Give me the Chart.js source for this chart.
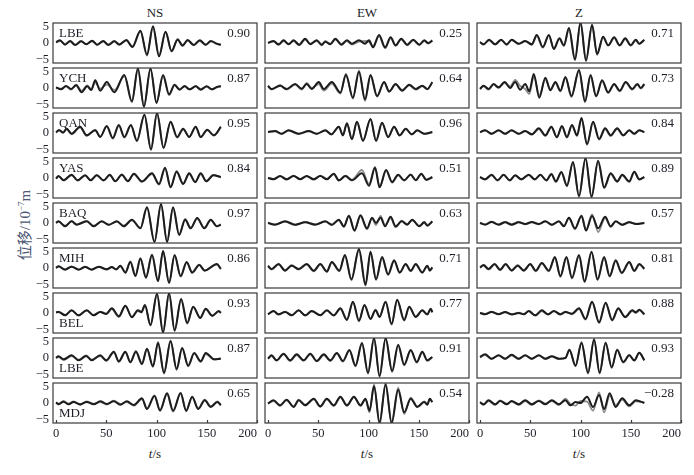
<!DOCTYPE html>
<html>
<head>
<meta charset="utf-8">
<script src="https://cdn.jsdelivr.net/npm/chart.js@4.4.0/dist/chart.umd.min.js"></script>
<style>
  body { margin: 0; background: #fff; width: 694px; height: 475px; position: relative; overflow: hidden;
         font-family: "Liberation Serif", "Noto Sans CJK SC", serif; color: #1e1e28; }
  .panel { position: absolute; }
  .txt { position: absolute; transform: translate(-50%, -50%); white-space: nowrap; font-size: 13px; }
  .ytitle { position: absolute; left: 23px; top: 225px; transform: translate(-50%, -50%) rotate(-90deg);
            white-space: nowrap; font-size: 15px; color: #4a5672; }
</style>
</head>
<body>

<div class="txt" style="left:155px; top:13px;">NS</div>
<div class="txt" style="left:367px; top:13px;">EW</div>
<div class="txt" style="left:579px; top:13px;">Z</div>
<div class="txt" style="left:155px; top:454px;"><i>t</i>/s</div>
<div class="txt" style="left:367px; top:454px;"><i>t</i>/s</div>
<div class="txt" style="left:579px; top:454px;"><i>t</i>/s</div>
<div class="ytitle">位移/10<sup style="font-size:9px">−7</sup>m</div>

<script>
// chart labels
const components = ['NS', 'EW', 'Z'];
const stations = ['LBE', 'YCH', 'QAN', 'YAS', 'BAQ', 'MIH', 'BEL', 'LBE', 'MDJ'];
const corrNS = ['0.90', '0.87', '0.95', '0.84', '0.97', '0.86', '0.93', '0.87', '0.65'];
const corrEW = ['0.25', '0.64', '0.96', '0.51', '0.63', '0.71', '0.77', '0.91', '0.54'];
const corrZ = ['0.71', '0.73', '0.84', '0.89', '0.57', '0.81', '0.88', '0.93', '−0.28'];
const xTicks = [0, 50, 100, 150, 200];
const yTicks = [-5, 0, 5];

// waveforms: times (s) of turning points, observed (black) and synthetic (gray), 1e-7 m
// NS
const ns1_t = [0, 4, 9, 14, 19, 25, 30, 36, 41, 47, 52, 58, 63, 70, 76, 84, 90.5, 96.5, 102.5, 109, 115, 121, 126, 131, 137, 143, 149, 154, 160, 164];
const ns1_obs = [0.3, 0.8, -0.5, 0.6, -0.6, 0.5, -0.4, 0.7, -0.5, 0.6, -0.6, 0.5, -0.5, 0.9, -1.2, 3.7, -3.5, 5.0, -4.0, 3.4, -2.4, 1.0, -0.8, 0.9, -0.6, 0.8, -0.5, 0.6, -0.2, -0.6];
const ns1_syn = [0.1, 0.6, -0.3, 0.5, -0.5, 0.6, -0.3, 0.5, -0.6, 0.5, -0.4, 0.6, -0.3, 0.7, -1.0, 3.4, -3.8, 4.7, -3.7, 3.2, -2.6, 1.2, -0.6, 0.7, -0.7, 0.6, -0.6, 0.5, -0.3, -0.4];

const ns2_t = [0, 5, 10, 15, 20, 25.5, 31, 35, 39, 44, 50.5, 58, 68, 75.5, 81.5, 87.5, 94, 100, 106.5, 112.5, 118, 123, 128, 133, 139, 144, 150, 155, 160, 164];
const ns2_obs = [0.2, -0.4, 0.6, -0.3, 0.8, -1.3, 0.5, -0.6, 2.3, -0.8, 1.8, -1.3, 3.9, -4.0, 5.9, -5.5, 5.9, -4.5, 3.9, -1.9, 0.9, -0.5, 0.6, -0.4, 0.5, -0.5, 0.5, -0.4, 0.3, 0.6];
const ns2_syn = [0.0, -0.2, 0.5, -0.5, 1.0, -0.8, 0.8, -0.3, 1.6, -0.2, 1.0, -0.6, 3.5, -4.3, 5.6, -5.8, 5.6, -4.2, 3.6, -2.2, 1.1, -0.3, 0.4, -0.5, 0.6, -0.3, 0.4, -0.5, 0.2, 0.4];

const ns3_t = [0, 3, 7, 10.5, 15.5, 24, 30.5, 39, 44, 50.5, 56.5, 62.5, 68, 74.5, 80.5, 88, 94.5, 100.5, 107, 114, 120.5, 126.5, 132.5, 139, 144, 150.5, 157, 164];
const ns3_obs = [0.2, 0.9, 0.1, 1.3, -0.2, 1.9, -0.7, 0.8, -1.2, 2.1, -1.5, 2.4, -1.2, 2.4, -2.3, 5.5, -4.9, 6.0, -4.4, 3.4, -1.2, 1.3, -1.2, 1.9, -1.2, 1.0, -0.7, 1.9];
const ns3_syn = [0.1, 0.7, 0.2, 1.1, -0.4, 1.7, -0.9, 0.9, -1.0, 1.9, -1.7, 2.2, -1.4, 2.2, -2.5, 5.3, -5.1, 5.8, -4.6, 3.2, -1.4, 1.1, -1.0, 1.7, -1.3, 0.8, -0.8, 1.6];

const ns4_t = [0, 2.5, 7.5, 15.5, 21.5, 29, 34.5, 40.5, 47.5, 53.5, 59, 65.5, 71.5, 77.5, 85.5, 95.5, 102.5, 108.5, 114, 120, 126.5, 132.5, 138.5, 144, 149.5, 156.5, 164];
const ns4_obs = [-0.2, 0.6, -0.7, 1.0, -0.7, 0.8, -0.7, 0.8, -0.7, 1.0, -1.0, 1.0, -1.0, 1.3, -1.0, 1.4, -1.8, 3.1, -2.8, 1.9, -1.8, 1.4, -1.2, 1.4, -1.0, 0.8, 0.3];
const ns4_syn = [-0.1, 0.5, -0.6, 0.8, -0.8, 0.7, -0.6, 0.9, -0.8, 0.8, -0.9, 1.1, -0.8, 1.1, -1.2, 1.2, -2.0, 2.8, -2.6, 2.1, -1.6, 1.2, -1.3, 1.2, -0.8, 0.9, 0.2];

const ns5_t = [0, 2.5, 9, 15.5, 20.5, 30.5, 37.5, 45.5, 52.5, 60.5, 67.5, 75.5, 84, 90.5, 98, 104.5, 110.5, 116.5, 122.5, 128.5, 134, 140.5, 147.5, 154, 160, 164];
const ns5_obs = [0, 0.5, -1.0, 0.5, -0.5, 0.5, -1.0, 0.5, -0.5, 0.5, -1.0, 1.0, -1.6, 4.7, -5.7, 5.7, -5.7, 4.7, -3.6, 1.0, -1.6, 1.5, -1.6, 1.0, -1.0, -0.5];
const ns5_syn = [0.1, 0.4, -0.8, 0.6, -0.4, 0.6, -0.8, 0.4, -0.6, 0.4, -0.8, 0.8, -1.4, 4.5, -5.5, 5.5, -5.5, 4.5, -3.4, 1.2, -1.4, 1.3, -1.4, 0.9, -0.9, -0.4];

const ns6_t = [0, 2.5, 9, 15.5, 22.5, 29, 35.5, 42.5, 50.5, 55.5, 60, 64, 69, 74, 79, 84, 89.5, 95.5, 101.5, 106.5, 112.5, 118, 124, 130, 135.5, 142.5, 148, 160, 164];
const ns6_obs = [0, 0.5, -0.5, 0.4, -0.5, 0.3, -0.5, 0.4, -0.4, 0.3, -0.4, 0.7, -1.4, 1.8, -2.4, 2.8, -2.9, 3.9, -4.0, 5.1, -4.5, 3.9, -2.4, 1.8, -1.4, 0.9, -0.8, 1.2, -0.3];
const ns6_syn = [0.1, 0.4, -0.4, 0.5, -0.4, 0.4, -0.4, 0.3, -0.5, 0.2, -0.5, 0.5, -1.2, 2.0, -2.2, 3.0, -2.7, 4.1, -3.8, 4.8, -4.3, 3.7, -2.6, 1.6, -1.2, 1.0, -0.7, 1.0, -0.2];

const ns7_t = [0, 2.5, 9, 15.5, 22.5, 30.5, 37.5, 44, 50, 55.5, 62.5, 69, 75.5, 81.5, 85, 88.5, 94, 100.5, 106.5, 112.5, 118, 124.5, 130.5, 136.5, 143.5, 149, 155.5, 162, 164];
const ns7_obs = [0.2, 0.3, -0.7, 0.8, -0.7, 0.8, -0.7, 0.3, -0.3, 1.4, -1.0, 2.2, -1.3, 0.8, 0.3, 2.4, -3.6, 5.8, -5.9, 6.0, -5.2, 4.2, -3.0, 1.9, -1.5, 1.3, -0.8, 0.6, 0.0];
const ns7_syn = [0.1, 0.4, -0.6, 0.7, -0.8, 0.7, -0.6, 0.4, -0.2, 1.2, -1.2, 2.0, -1.1, 0.6, 0.1, 2.2, -3.8, 5.6, -5.7, 5.8, -5.4, 4.0, -3.2, 1.7, -1.3, 1.1, -0.9, 0.5, 0.1];

const ns8_t = [0, 2.5, 7.5, 15.5, 22.5, 30, 35.5, 44, 50, 57.5, 62.5, 69, 74, 79.5, 85.5, 90.5, 96.5, 101.5, 107.5, 114, 120, 125.5, 131.5, 137.5, 144, 149, 157.5, 164];
const ns8_obs = [0, 0.5, -0.4, 0.8, -0.7, 0.6, -0.7, 0.8, -0.7, 1.9, -1.0, 1.9, -1.3, 1.9, -1.8, 2.7, -2.5, 4.5, -4.4, 5.0, -3.3, 2.9, -2.3, 1.4, -1.0, 1.5, -0.4, -0.2];
const ns8_syn = [0.1, 0.3, -0.6, 0.6, -0.5, 0.8, -0.5, 0.6, -0.9, 1.6, -1.2, 1.7, -1.1, 2.1, -1.6, 2.9, -2.7, 4.8, -4.7, 5.3, -3.6, 3.1, -2.5, 1.6, -1.2, 1.2, -0.5, 0.0];

const ns9_t = [0, 2.5, 7.5, 12.5, 17.5, 24, 30.5, 37.5, 44, 50.5, 57.5, 64, 70.5, 77.5, 85.5, 90.5, 98, 103.5, 110.5, 116.5, 124, 129.5, 135.5, 141.5, 148, 154, 160.5, 164];
const ns9_obs = [0.2, -0.3, 0.4, -0.4, 0.3, -0.4, 0.3, -0.4, 0.5, -0.3, 0.5, -0.5, 0.5, -0.6, 1.4, -1.8, 2.1, -2.3, 2.9, -2.3, 2.9, -2.4, 1.9, -1.8, 0.8, -1.2, 0.3, -0.7];
const ns9_syn = [0.0, -0.5, 0.6, -0.2, 0.5, -0.6, 0.5, -0.2, 0.3, -0.5, 0.7, -0.3, 0.3, -0.8, 1.2, -1.6, 2.3, -2.0, 2.6, -2.6, 3.1, -2.2, 1.7, -1.6, 1.0, -1.0, 0.5, -0.5];

// EW
const ew1_t = [0, 5.5, 10.5, 15.5, 20.5, 25.5, 31, 37, 42, 48.5, 53.5, 57, 62, 67, 73, 78.5, 83.5, 90.5, 96.5, 100.5, 104.5, 110.5, 116.5, 122, 127, 132.5, 138.5, 144.5, 150.5, 155.5, 159.5, 163.5];
const ew1_obs = [0, 0.6, -0.4, 0.8, -0.4, 0.8, -0.5, 1.3, -0.4, 0.8, -0.5, 0.4, -0.4, 1.3, -0.5, 0.8, -0.2, 0.8, -0.2, 0.8, -1.3, 2.4, -1.3, 1.7, -0.7, 1.3, -0.5, 1.0, -0.5, 0.8, 0.0, 0.8];
const ew1_syn = [0.1, 0.4, -0.6, 0.6, -0.2, 0.6, -0.7, 1.0, -0.2, 0.6, -0.7, 0.6, -0.2, 1.0, -0.3, 0.6, -0.5, 0.4, 0.6, 0.3, -0.9, 2.0, -1.6, 1.4, -0.9, 1.1, -0.7, 0.8, -0.6, 0.6, -0.2, 0.7];

const ew2_t = [0, 3.5, 12, 18.5, 27, 33.5, 38.5, 43.5, 50.5, 55.5, 63.5, 72, 77.5, 84.5, 90.5, 96.5, 102, 108.5, 115.5, 120.5, 127, 133.5, 140.5, 147, 153.5, 158.5, 163.5];
const ew2_obs = [0.7, -0.3, 0.7, -0.3, 1.2, -0.2, 1.2, -0.3, 1.8, -0.3, 1.8, -1.4, 3.9, -2.9, 4.9, -3.4, 3.9, -2.4, 1.8, -1.0, 1.2, -0.8, 1.0, -0.3, 0.7, -0.3, 1.8];
const ew2_syn = [0.5, -0.5, 0.9, -0.5, 1.0, -0.5, 1.5, 0.0, 1.2, -0.8, 1.3, -1.7, 4.3, -3.2, 5.3, -3.9, 3.6, -2.6, 1.6, -1.2, 1.0, -0.6, 0.8, -0.5, 0.5, -0.4, 1.5];

const ew3_t = [0, 7, 13.5, 20.5, 30.5, 40.5, 48.5, 57, 63, 70.5, 74.5, 78.5, 83.5, 88.5, 94.5, 102, 107.5, 113.5, 119.5, 125.5, 131, 137, 143, 148.5, 155.5, 163.5];
const ew3_obs = [0.3, 0.6, -0.2, 0.8, -0.2, 0.6, -0.2, 0.8, -0.4, 1.9, -0.7, 2.9, -1.8, 3.4, -2.3, 4.2, -2.3, 3.1, -1.2, 1.9, -0.7, 1.3, -0.4, 0.8, -0.2, 0.3];
const ew3_syn = [0.2, 0.5, -0.3, 0.7, -0.3, 0.5, -0.3, 0.7, -0.5, 1.8, -0.8, 2.8, -1.9, 3.3, -2.4, 4.1, -2.4, 3.0, -1.3, 1.8, -0.8, 1.2, -0.5, 0.7, -0.3, 0.2];

const ew4_t = [0, 5.5, 12, 18.5, 25.5, 32, 38.5, 45.5, 52, 58.5, 65.5, 70.5, 77, 83.5, 93.5, 100.5, 106.5, 111, 117.5, 123.5, 129.5, 135.5, 142, 147, 152.5, 157.5, 163.5];
const ew4_obs = [0, -0.4, 0.6, -0.4, 0.6, -0.4, 0.6, -0.4, 0.6, -0.4, 1.3, -0.7, 0.6, -0.7, 1.4, -2.3, 3.1, -2.8, 2.4, -1.2, 1.0, -0.7, 1.0, -0.7, 1.3, -0.5, 0.3];
const ew4_syn = [0.1, -0.3, 0.5, -0.5, 0.7, -0.3, 0.5, -0.5, 0.7, -0.3, 1.1, -0.8, 0.7, -0.5, 2.4, -1.8, 3.3, -2.5, 2.2, -1.4, 0.8, -0.8, 1.1, -0.6, 1.1, -0.6, 0.2];

const ew5_t = [0, 7, 17, 27, 37, 47, 57, 63.5, 70.5, 75.5, 80.5, 86, 92, 98.5, 103.5, 107.5, 112, 116.5, 122, 127, 133, 138.5, 143.5, 150.5, 155.5, 158.5, 163.5];
const ew5_obs = [0, -0.5, 0.5, -0.5, 0.2, -0.5, 0.5, -0.5, 1.0, -1.0, 2.1, -2.3, 2.3, -1.6, 1.6, 0.0, 1.6, -1.0, 1.9, -1.0, 0.5, -0.5, 1.0, -1.0, 0.2, -0.8, 0.5];
const ew5_syn = [0.1, -0.4, 0.4, -0.6, 0.3, -0.4, 0.4, -0.6, 0.8, -1.2, 2.3, -2.0, 2.0, -1.9, 1.3, -0.6, 2.1, -0.6, 1.5, -1.3, 0.7, -0.3, 0.8, -0.8, 0.3, -0.6, 0.4];

const ew6_t = [0, 3.5, 10.5, 17, 23.5, 30.5, 38.5, 45.5, 52, 58.5, 63.5, 71, 76.5, 83, 90.5, 97, 102, 107.5, 113.5, 119.5, 125.5, 131, 137, 142, 147, 153.5, 158.5, 161, 163.5];
const ew6_obs = [0.7, -0.3, 1.2, -0.8, 0.7, -0.3, 1.2, -0.8, 1.2, -1.1, 1.8, -0.8, 3.9, -3.4, 5.7, -5.0, 4.9, -3.4, 3.3, -1.9, 2.3, -1.4, 1.2, -0.8, 1.2, -1.4, 0.7, -0.8, 0.2];
const ew6_syn = [0.5, -0.5, 1.0, -0.6, 0.9, -0.5, 1.0, -1.0, 1.0, -0.9, 1.6, -1.0, 3.6, -3.7, 5.4, -5.3, 4.6, -3.6, 3.0, -2.1, 2.0, -1.2, 1.0, -1.0, 1.0, -1.2, 0.5, -0.6, 0.1];

const ew7_t = [0, 5.5, 10.5, 17, 23.5, 30.5, 37, 43.5, 52, 58.5, 65.5, 72, 78.5, 84.5, 90.5, 96, 102, 107, 111, 117, 123, 128.5, 135.5, 140.5, 147, 153.5, 158.5, 162, 163.5];
const ew7_obs = [-0.4, 0.6, -0.4, 0.3, -0.7, 0.8, -0.7, 0.6, -0.7, 0.8, -0.7, 1.4, -2.1, 3.4, -2.3, 2.4, -1.8, 0.8, -1.2, 3.4, -3.3, 4.0, -2.1, 1.9, -1.2, 0.8, -0.4, 1.3, 0.2];
const ew7_syn = [-0.3, 0.5, -0.5, 0.4, -0.6, 0.7, -0.8, 0.5, -0.6, 0.7, -0.8, 1.2, -1.9, 3.2, -2.5, 2.2, -1.6, 1.0, -1.0, 3.2, -3.5, 3.8, -2.3, 1.7, -1.0, 0.7, -0.5, 1.1, 0.3];

const ew8_t = [0, 3.5, 8.5, 15.5, 22, 28.5, 35.5, 42, 48.5, 55.5, 62, 68.5, 74.5, 81, 87, 93.5, 99.5, 105.5, 111, 117, 123.5, 129.5, 135.5, 142, 148, 153.5, 158.5, 163.5];
const ew8_obs = [-0.2, 0.8, -0.7, 1.3, -0.7, 1.1, -0.7, 1.3, -0.9, 1.1, -0.7, 1.5, -0.9, 2.4, -2.3, 4.5, -4.4, 6.0, -5.4, 6.0, -3.9, 4.0, -2.0, 2.4, -1.2, 1.9, -0.7, 0.3];
const ew8_syn = [-0.1, 0.6, -0.8, 1.1, -0.9, 0.9, -0.8, 1.1, -1.0, 0.9, -0.9, 1.3, -1.1, 2.2, -2.5, 4.3, -4.7, 5.8, -5.7, 5.7, -4.2, 3.7, -2.2, 2.2, -1.4, 1.7, -0.9, 0.2];

const ew9_t = [0, 5.5, 12, 18.5, 25.5, 30.5, 37, 45.5, 52, 58.5, 65.5, 72, 78.5, 85.5, 92, 97, 101, 105.5, 111, 117, 123, 129.5, 135.5, 142, 148.5, 155.5, 158.5, 161, 163.5];
const ew9_obs = [-0.2, 0.8, -0.7, 1.0, -1.2, 0.8, -0.7, 1.3, -1.0, 1.3, -0.7, 1.9, -0.7, 1.9, -0.7, 1.3, -2.3, 5.0, -5.9, 5.5, -5.9, 4.0, -2.8, 1.3, -1.2, 0.3, -0.5, 1.3, 0.3];
const ew9_syn = [-0.1, 0.6, -0.9, 0.8, -1.0, 1.0, -0.5, 1.1, -1.2, 1.1, -0.9, 1.7, -0.9, 1.7, -0.9, 1.0, -2.8, 5.6, -6.6, 6.1, -6.5, 4.6, -3.3, 1.6, -1.0, 0.5, -0.3, 1.1, 0.2];

// Z
const z1_t = [0, 3.5, 9, 15, 21, 26.5, 31.5, 38.5, 45, 51.5, 56.5, 62.5, 68.5, 73.5, 79, 83.5, 88.5, 94.5, 100, 105.5, 111.5, 116.5, 122.5, 127.5, 133.5, 139, 144.5, 150, 155, 158.5, 163.5];
const z1_obs = [0.3, -0.4, 1.0, -0.4, 1.0, -0.4, 1.0, -0.2, 0.6, -0.4, 2.4, -1.2, 2.4, -1.8, 1.4, -0.7, 4.5, -4.9, 6.2, -5.2, 5.5, -3.3, 1.9, -0.7, 1.7, -0.7, 1.4, -0.7, 1.0, -0.2, 1.0];
const z1_syn = [0.2, -0.5, 0.8, -0.5, 0.9, -0.6, 0.9, -0.3, 0.5, -0.6, 2.1, -1.4, 2.2, -1.6, 1.2, -0.9, 4.2, -5.2, 6.0, -5.5, 5.2, -3.6, 1.7, -0.8, 1.5, -0.8, 1.2, -0.8, 0.8, -0.3, 0.8];

const z2_t = [0, 3.5, 8.5, 13.5, 18.5, 24.5, 30, 35, 40, 45, 49, 53.5, 59, 65, 70, 75, 80, 85, 91, 98.5, 104.5, 110, 115.5, 121.5, 127.5, 133.5, 139, 145, 151.5, 156.5, 160, 163.5];
const z2_obs = [-0.3, 0.7, -0.3, 1.2, 0.2, 1.8, 0.0, 1.8, -0.5, 1.2, -1.0, 4.2, -2.9, 3.1, -0.7, 1.8, -0.8, 3.3, -2.4, 5.4, -4.0, 3.9, -2.4, 2.3, -1.3, 1.2, -0.8, 1.8, -0.3, 1.2, 0.0, 1.2];
const z2_syn = [-0.2, 0.5, -0.5, 1.0, 0.0, 1.5, 0.5, 2.4, 0.6, -0.3, -1.8, 3.4, -2.2, 2.6, -0.3, 1.5, -1.0, 3.0, -2.7, 5.1, -4.3, 3.6, -2.6, 2.0, -1.5, 1.0, -1.0, 1.6, -0.5, 1.0, -0.2, 1.0];

const z3_t = [0, 5, 11.5, 18.5, 25, 31.5, 38.5, 45, 51.5, 58.5, 65, 71, 76.5, 81.5, 86.5, 91.5, 96.5, 101, 106.5, 112.5, 118.5, 124.5, 130, 136.5, 142.5, 148.5, 153.5, 158.5, 163.5];
const z3_obs = [0.3, 0.8, -0.2, 0.8, -0.2, 0.8, -0.2, 0.6, -0.4, 1.4, -0.7, 1.9, -1.2, 2.1, -1.2, 2.4, -0.7, 4.5, -3.3, 3.4, -1.8, 1.4, -0.7, 1.4, -0.7, 0.8, -0.2, 0.8, 0.3];
const z3_syn = [0.2, 0.7, -0.3, 0.7, -0.3, 0.7, -0.3, 0.5, -0.5, 1.2, -0.9, 1.7, -1.4, 1.9, -1.4, 2.2, -0.9, 4.2, -3.6, 3.2, -2.0, 1.2, -0.9, 1.2, -0.8, 0.7, -0.3, 0.7, 0.2];

const z4_t = [0, 5, 11.5, 17.5, 23.5, 29.5, 35, 41, 48.5, 54.5, 60, 66, 71, 75.5, 81, 86.5, 92.5, 98.5, 105, 111, 117.5, 123.5, 130, 136.5, 141.5, 148.5, 153.5, 158.5, 163.5];
const z4_obs = [0.3, -0.4, 1.0, -0.7, 1.0, -0.7, 0.8, -0.4, 1.0, -0.4, 1.0, -0.7, 1.2, -1.0, 1.8, -2.3, 4.8, -5.4, 6.0, -5.6, 5.2, -2.8, 1.4, -1.0, 1.0, -1.0, 1.9, -0.4, 0.3];
const z4_syn = [0.2, -0.5, 0.8, -0.8, 0.9, -0.8, 0.7, -0.5, 0.9, -0.5, 0.9, -0.8, 1.0, -1.2, 1.6, -2.5, 4.6, -5.7, 5.8, -5.9, 5.0, -3.1, 1.2, -1.2, 0.8, -1.2, 1.7, -0.5, 0.2];

const z5_t = [0, 5, 11.5, 18.5, 25, 31.5, 38.5, 45, 51.5, 58.5, 65, 71.5, 78.5, 83.5, 88.5, 94.5, 101, 105.5, 111.5, 117.5, 124.5, 130, 135, 141.5, 148.5, 155, 163.5];
const z5_obs = [0, -0.5, 0.3, -0.5, 0.2, -0.5, 0.2, -0.3, 0.3, -0.3, 0.5, -0.5, 0.5, -1.0, 1.6, -1.6, 2.1, -2.3, 2.1, -1.6, 1.9, -1.0, 0.5, -0.5, 0.2, -0.3, 0];
const z5_syn = [0.1, -0.4, 0.4, -0.4, 0.3, -0.4, 0.3, -0.4, 0.2, -0.4, 0.4, -0.6, 0.4, -0.8, 1.4, -1.9, 2.3, -2.0, 2.6, -2.7, 1.5, -1.2, 0.4, -0.6, 0.3, -0.2, 0.1];

const z6_t = [0, 3.5, 8.5, 14.5, 20, 25.5, 31.5, 37.5, 43.5, 50, 55.5, 61.5, 68.5, 74.5, 80, 86, 91.5, 98.5, 104, 111, 117, 123.5, 129, 135, 141, 148.5, 153.5, 158.5, 163.5];
const z6_obs = [0.2, 0.9, -0.3, 1.2, -0.5, 1.2, -0.8, 0.7, -0.8, 1.2, -0.8, 1.5, -0.8, 3.3, -2.4, 3.3, -2.9, 3.9, -4.0, 4.9, -3.4, 3.3, -2.4, 2.3, -1.4, 1.8, -0.8, 1.2, -0.2];
const z6_syn = [0.1, 0.7, -0.5, 1.0, -0.7, 1.0, -0.6, 0.9, -0.6, 1.0, -1.0, 1.3, -1.0, 3.0, -2.7, 3.0, -3.2, 3.6, -4.3, 4.6, -3.7, 3.0, -2.6, 2.0, -1.6, 1.6, -1.0, 1.0, -0.3];

const z7_t = [0, 5, 11.5, 18.5, 25, 31.5, 38.5, 43.5, 48.5, 55, 61.5, 67.5, 73.5, 80, 85, 91.5, 98.5, 105, 111.5, 118.5, 125, 131.5, 137.5, 144.5, 151.5, 155, 158.5, 163.5];
const z7_obs = [0, -0.4, 0.3, -0.4, 0.3, -0.4, 0, -0.4, 0.6, -0.7, 0.8, -0.4, 0.6, -0.4, 0.3, -0.2, 1.4, -1.8, 3.4, -2.8, 3.1, -2.1, 1.4, -1.2, 0.8, 0.2, 1.0, -0.4];
const z7_syn = [0.1, -0.3, 0.4, -0.3, 0.2, -0.5, 0.1, -0.3, 0.5, -0.8, 0.6, -0.5, 0.5, -0.5, 0.4, -0.4, 1.2, -2.0, 3.2, -3.0, 2.9, -2.3, 1.2, -1.3, 0.6, 0.0, 0.8, -0.5];

const z8_t = [0, 5, 11.5, 18.5, 25, 31.5, 38.5, 45, 51.5, 58.5, 65, 71.5, 78.5, 85, 89, 95, 101, 107.5, 113.5, 119, 125, 131, 136.5, 142.5, 148.5, 153.5, 158.5, 163.5];
const z8_obs = [0.3, 1.1, -0.2, 0.8, -0.2, 1.0, -0.2, 0.8, -0.2, 0.8, -0.2, 0.5, -0.2, 0.0, 2.4, -2.3, 4.5, -4.4, 5.5, -4.4, 4.5, -2.8, 2.4, -1.2, 0.8, -0.7, 1.6, -0.7];
const z8_syn = [0.2, 0.9, -0.3, 0.7, -0.3, 0.8, -0.3, 0.7, -0.3, 0.7, -0.3, 0.4, -0.3, 0.0, 2.6, -2.5, 4.8, -4.7, 5.8, -4.7, 4.7, -3.0, 2.6, -1.4, 0.9, -0.8, 1.5, -0.6];

const z9_t = [0, 3.5, 8.5, 15, 20, 26.5, 31.5, 38.5, 45, 51.5, 58.5, 65, 71.5, 78.5, 85, 90, 95, 100, 106.5, 112.5, 118.5, 123.5, 129, 135, 141.5, 148.5, 155, 163.5];
const z9_obs = [0.3, -0.4, 0.8, -0.4, 0.6, -0.4, 0.6, -0.4, 0.8, -0.4, 0.6, -0.4, 0.8, -0.4, 0.8, -0.7, 0.3, 0.0, 1.9, -1.2, 2.4, -1.8, 2.9, -1.2, 1.4, -0.7, 0.8, 0.0];
const z9_syn = [0.1, -0.6, 0.6, -0.6, 0.8, -0.2, 0.4, -0.6, 0.6, -0.6, 0.8, -0.2, 0.6, -0.6, 1.3, -0.3, -0.8, 0.6, 0.4, -2.3, 3.2, -2.8, 2.2, -0.6, 1.0, -1.0, 0.5, 0.2];

const waves = [
  [[ns1_t, ns1_obs, ns1_syn], [ns2_t, ns2_obs, ns2_syn], [ns3_t, ns3_obs, ns3_syn], [ns4_t, ns4_obs, ns4_syn], [ns5_t, ns5_obs, ns5_syn],
   [ns6_t, ns6_obs, ns6_syn], [ns7_t, ns7_obs, ns7_syn], [ns8_t, ns8_obs, ns8_syn], [ns9_t, ns9_obs, ns9_syn]],
  [[ew1_t, ew1_obs, ew1_syn], [ew2_t, ew2_obs, ew2_syn], [ew3_t, ew3_obs, ew3_syn], [ew4_t, ew4_obs, ew4_syn], [ew5_t, ew5_obs, ew5_syn],
   [ew6_t, ew6_obs, ew6_syn], [ew7_t, ew7_obs, ew7_syn], [ew8_t, ew8_obs, ew8_syn], [ew9_t, ew9_obs, ew9_syn]],
  [[z1_t, z1_obs, z1_syn], [z2_t, z2_obs, z2_syn], [z3_t, z3_obs, z3_syn], [z4_t, z4_obs, z4_syn], [z5_t, z5_obs, z5_syn],
   [z6_t, z6_obs, z6_syn], [z7_t, z7_obs, z7_syn], [z8_t, z8_obs, z8_syn], [z9_t, z9_obs, z9_syn]]
];
const corrs = [corrNS, corrEW, corrZ];

// layout
const plotLeft = [53, 265, 477];
const plotW = 204;
const plotH = 40;
const rowTop = r => 23 + 45 * r;
const serif = '"Liberation Serif", "Times New Roman", serif';

// box, inner ticks, station name and correlation
const panelDeco = {
  id: 'panelDeco',
  afterDatasetsDraw(chart, args, opts) {
    const { ctx, chartArea: a } = chart;
    ctx.save();
    ctx.strokeStyle = '#3a3a3a';
    ctx.lineWidth = 1.2;
    ctx.strokeRect(a.left, a.top, a.right - a.left, a.bottom - a.top);
    if (opts.bottom) {
      const xs = chart.scales.x;
      xTicks.forEach(v => {
        const px = Math.round(xs.getPixelForValue(v)) + 0.5;
        ctx.beginPath();
        ctx.moveTo(px, a.bottom);
        ctx.lineTo(px, a.bottom - 3);
        ctx.stroke();
      });
    }
    ctx.fillStyle = '#1e1e28';
    ctx.font = '13px ' + serif;
    ctx.textBaseline = 'middle';
    if (opts.station) {
      ctx.textAlign = 'left';
      ctx.fillText(opts.station, a.left + 6, opts.stationLow ? a.top + 31 : a.top + 10.5);
    }
    ctx.textAlign = 'right';
    ctx.fillText(opts.corr, a.right - 7, a.top + 11);
    ctx.restore();
  }
};

// keep scales from reserving room for end labels
function noPad(s) {
  s.paddingTop = 0; s.paddingBottom = 0; s.paddingLeft = 0; s.paddingRight = 0;
}

function makePanel(col, row) {
  const [t, obs, syn] = waves[col][row];
  const first = col === 0;
  const last = row === 8;
  const padL = first ? 33 : 6;
  const padR = 12;
  const padT = 2;
  const padB = last ? 22 : 2;

  const div = document.createElement('div');
  div.className = 'panel';
  div.style.left = (plotLeft[col] - padL) + 'px';
  div.style.top = (rowTop(row) - padT) + 'px';
  const canvas = document.createElement('canvas');
  canvas.width = padL + plotW + padR;
  canvas.height = padT + plotH + padB;
  div.appendChild(canvas);
  document.body.appendChild(div);

  new Chart(canvas, {
    type: 'line',
    data: {
      datasets: [
        { data: t.map((x, i) => ({ x, y: obs[i] })), borderColor: '#1c1c1c', borderWidth: 2 },
        { data: t.map((x, i) => ({ x, y: syn[i] })), borderColor: '#8c8c8c', borderWidth: 1.8 }
      ]
    },
    options: {
      responsive: false,
      animation: false,
      events: [],
      layout: { padding: { left: first ? 0 : padL, right: padR, top: padT, bottom: last ? 0 : padB } },
      elements: {
        point: { radius: 0 },
        line: { cubicInterpolationMode: 'monotone', fill: false }
      },
      scales: {
        x: {
          type: 'linear', min: -3, max: 200, display: last,
          afterBuildTicks: s => { s.ticks = xTicks.map(v => ({ value: v })); },
          afterFit: s => { if (last) s.height = 22; noPad(s); },
          grid: { display: false, drawTicks: false },
          border: { display: false },
          ticks: {
            padding: 3, color: '#1e1e28', font: { family: serif, size: 12.5 }, maxRotation: 0, autoSkip: false,
            // last label sits inside the frame, as in the original figure
            callback: v => v === 200 ? '200\u2007\u2007\u2007' : String(v)
          }
        },
        y: {
          min: -6, max: 6, display: first,
          afterBuildTicks: s => { s.ticks = yTicks.map(v => ({ value: v })); },
          afterFit: s => { if (first) s.width = 33; noPad(s); },
          grid: { display: false, drawTicks: false },
          border: { display: false },
          ticks: { padding: 4, color: '#1e1e28', font: { family: serif, size: 12.5 }, autoSkip: false,
                   callback: v => v < 0 ? '−' + Math.abs(v) : String(v) }
        }
      },
      plugins: {
        legend: { display: false },
        tooltip: { enabled: false },
        panelDeco: {
          station: first ? stations[row] : null,
          stationLow: row >= 6,
          corr: corrs[col][row],
          bottom: last
        }
      }
    },
    plugins: [panelDeco]
  });
}

for (let c = 0; c < 3; c++) {
  for (let r = 0; r < 9; r++) makePanel(c, r);
}
</script>
</body>
</html>
